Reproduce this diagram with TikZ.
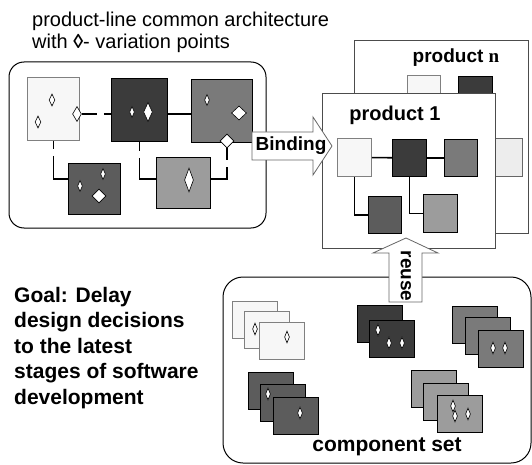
\documentclass[tikz,border=0pt]{standalone}
\usepackage{fontspec}
\setmainfont{Liberation Sans}
\newfontfamily\serifn{Liberation Serif}
\usetikzlibrary{shapes.geometric, positioning}
\definecolor{shadeA}{gray}{0.97}
\definecolor{shadeB}{gray}{0.23}
\definecolor{shadeC}{gray}{0.48}
\definecolor{shadeD}{gray}{0.36}
\definecolor{shadeE}{gray}{0.61}
\definecolor{shadeF}{gray}{0.93}

\begin{document}
\begin{tikzpicture}[
    x=1pt, y=-1pt,
    box/.style={draw, inner sep=0pt, anchor=north west, line width=0.8pt},
    card/.style={box, minimum width=45pt, minimum height=37pt},
    vp/.style 2 args={diamond, draw, fill=white, inner sep=0pt, line width=0.6pt,
        minimum width=#1, minimum height=#2},
    link/.style={line width=1.6pt},
    gaplink/.style={link, dash pattern=on #1 off 7pt on 400pt},
    gaplink/.default=10pt,
    panel/.style={draw, rounded corners=#1, line width=1pt},
    heading/.style={inner sep=0pt, font=\bfseries\fontsize{20}{24}\selectfont},
    blockarrow/.style={draw=black!60, fill=white, line width=0.8pt}
]
    \useasboundingbox (0,0) rectangle (532,465);

    % title and goal
    \node[anchor=north west, align=left, inner sep=0pt, font=\fontsize{20}{22}\selectfont]
        (title) at (32,12) {product-line common architecture\\with {\bfseries ◊}- variation points};
    \node[anchor=north west, align=left, inner sep=0pt, font=\bfseries\fontsize{21}{25.5}\selectfont]
        (goal) at (14,287) {Goal: Delay\\design decisions\\to the latest\\stages of software\\development};

    % common architecture
    \draw[panel=15pt] (9,62) rectangle (266,228);
    \node[box, draw=black!50, fill=shadeA, minimum width=52pt, minimum height=63pt] (A) at (27,77) {};
    \node[box, fill=shadeB, minimum width=56pt, minimum height=63pt] (B) at (111,78) {};
    \node[box, fill=shadeC, minimum width=61pt, minimum height=63pt] (C) at (191,79) {};
    \node[box, fill=shadeD, minimum width=52pt, minimum height=51pt] (D) at (68,163) {};
    \node[box, fill=shadeE, minimum width=54pt, minimum height=51pt] (E) at (156,157) {};

    \node[vp={6pt}{12pt}] (vA1) at (52,100) {};
    \node[vp={6pt}{12pt}] (vA2) at (38,122) {};
    \node[vp={5pt}{11pt}] (vB1) at (132,112) {};
    \node[vp={9pt}{19pt}] (vB2) at (148,112) {};
    \node[vp={5pt}{11pt}] (vC1) at (207,100) {};
    \node[vp={15pt}{14pt}] (vC2) at (239,113) {};
    \node[vp={5pt}{11pt}] (vD1) at (80,186) {};
    \node[vp={5pt}{11pt}] (vD2) at (103,174) {};
    \node[vp={14pt}{14pt}] (vD3) at (99,196) {};
    \node[vp={9pt}{24pt}] (vE) at (189,180) {};
    \node[vp={9pt}{15pt}] (vA) at (77,114) {};
    \node[vp={14pt}{14pt}] (vC) at (227,141) {};

    \draw[gaplink=15pt] (vA.east) -- (vA.east -| B.west);
    \draw[link] (vA.east -| B.east) -- (vA.east -| C.west);
    \draw[gaplink=8pt] (A.south) |- ([yshift=10pt]D.west);
    \draw[gaplink=9pt] (B.south) |- ([yshift=4pt]E.west);
    \draw[gaplink=12pt] (vC.south) |- ([yshift=4pt]E.east);

    % product n
    \node[box, draw=black!70, fill=white, minimum width=174pt, minimum height=193pt] (prodn) at (354,40) {};
    \node[heading, font=\bfseries\fontsize{19}{19}\selectfont] (prodn label) at (456,58) {product {\serifn n}};
    \node[box, draw=black!50, fill=shadeA, minimum width=33pt, minimum height=38pt] (nA) at (407,75) {};
    \node[box, fill=shadeB, minimum width=34pt, minimum height=38pt] (nB) at (458,76) {};
    \node[box, draw=black!60, fill=shadeF, minimum width=33pt, minimum height=38pt] (nC) at (489,138) {};

    % product 1
    \node[box, draw=black!70, fill=white, minimum width=173pt, minimum height=155pt] (prod1) at (322,93) {};
    \node[heading] (prod1 label) at (395,115) {product 1};
    \node[box, draw=black!50, fill=shadeA, minimum width=34pt, minimum height=38pt] (pA) at (337,138) {};
    \node[box, fill=shadeB, minimum width=34pt, minimum height=37pt] (pB) at (392,139) {};
    \node[box, fill=shadeC, minimum width=33pt, minimum height=37pt] (pC) at (444,139) {};
    \node[box, fill=shadeD, minimum width=33pt, minimum height=37pt] (pD) at (368,196) {};
    \node[box, fill=shadeE, minimum width=34pt, minimum height=38pt] (pE) at (423,194) {};
    \draw[link] (pA) -- (pB);
    \draw[link] (pB) -- (pC);
    \draw[link] (pA.south) |- (pD.west);
    \draw[link] (pB.south) |- (pE.west);

    % component set
    \draw[panel=20pt] (223,277) rectangle (531,463);
    \foreach \cx/\cy/\cc/\cd [count=\i] in {
        232/301/shadeA/black!50, 244/311/shadeA/black!50, 259/322/shadeA/black!50,
        357/305/shadeB/black, 369/320/shadeB/black,
        452/306/shadeC/black, 465/317/shadeC/black, 478/330/shadeC/black,
        248/372/shadeD/black, 260/384/shadeD/black, 273/397/shadeD/black,
        411/370/shadeE/black, 423/383/shadeE/black, 437/395/shadeE/black}
        \node[card, draw=\cd, fill=\cc] (card\i) at (\cx,\cy) {};
    \foreach \dx/\dy [count=\i] in {255/329, 287/337, 378/330, 389/343, 402/343,
        493/348, 505/348, 268/394, 300/413, 453/406, 455/416, 468/414}
        \node[vp={5pt}{12pt}] (cvp\i) at (\dx,\dy) {};
    \node[heading, font=\bfseries\fontsize{21}{21}\selectfont] (set label) at (387,447) {component set};

    % block arrows
    \draw[blockarrow] (252,132) -- (313,132) -- (313,117) -- (332,146)
        -- (313,175) -- (313,160) -- (252,160) -- cycle;
    \node[heading, font=\bfseries\fontsize{19}{19}\selectfont] (binding) at (291,146) {Binding};
    \draw[blockarrow] (389,302) -- (389,253) -- (373,253) -- (406,238)
        -- (438,253) -- (422,253) -- (422,302) -- cycle;
    \node[heading, rotate=-90, font=\bfseries\fontsize{19}{19}\selectfont] (reuse) at (406,276) {reuse};
\end{tikzpicture}
\end{document}
